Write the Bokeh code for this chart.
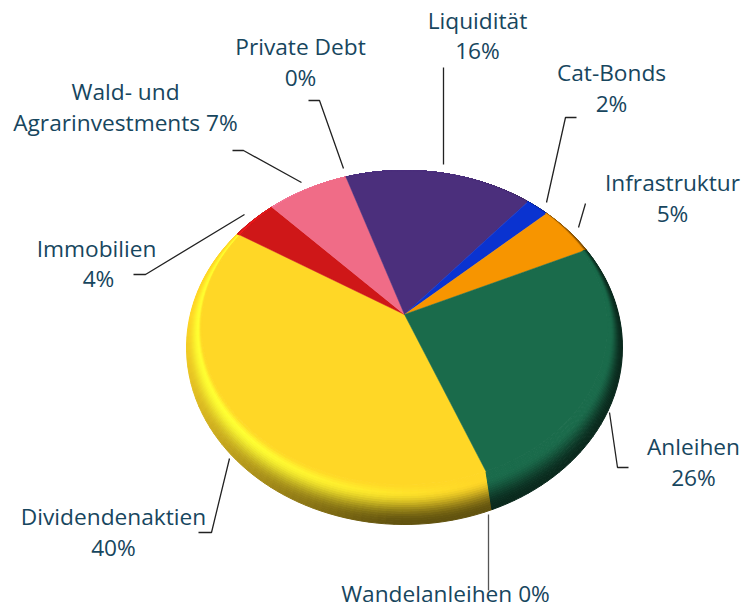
import math
import numpy as np
from bokeh.plotting import figure
from bokeh.models import Range1d
from bokeh.core.properties import value
from bokeh.embed import file_html
from bokeh.resources import INLINE

# ---- data (clockwise, starting at the yellow/green seam)
names = ["Dividendenaktien", "Immobilien", "Wald- und Agrarinvestments", "Private Debt",
         "Liquidität", "Cat-Bonds", "Infrastruktur", "Anleihen", "Wandelanleihen"]
shares = [40, 4, 7, 0, 16, 2, 5, 26, 0]
slice_colors = ["#FFD726", "#CF1718", "#F06C87", "#9A9A9A",
                "#4B2F7C", "#0A33D0", "#F79500", "#1A6B4B", "#8A8A8A"]

label_lines = ["Dividendenaktien", "40%", "Immobilien", "4%", "Wald- und", "Agrarinvestments 7%",
               "Private Debt", "0%", "Liquidität", "16%", "Cat-Bonds", "2%",
               "Infrastruktur", "5%", "Anleihen", "26%", "Wandelanleihen 0%"]
label_x = [113, 113, 96, 98, 125, 125, 300, 300, 477, 477, 611, 611, 672, 672, 693, 693, 445]
label_y = [516, 547, 248, 278, 91, 122, 46, 77, 20, 50, 72, 103, 182, 213, 446, 477, 593]

leader_xs = [[229, 211, 198], [133, 145, 244], [232, 243, 301], [308, 319, 343],
             [443, 443], [576, 565, 546], [585, 578], [609, 617, 628], [488, 488]]
leader_ys = [[458, 532, 532], [274, 274, 214], [150, 150, 182], [100, 100, 168],
             [67, 164], [117, 117, 202], [203, 227], [412, 467, 467], [514, 590]]
leader_colors = ["#222222"] * 8 + ["#555555"]

# ---- geometry of the tilted disc (screen pixels)
START_DEG = 158.5
APEX = (404.0, 314.0)
RAY_A, RAY_B = 205.0, 155.5
INNER = (404.0, 327.0, 203.0, 157.0)
OUTER = (404.0, 347.0, 218.0, 177.0)
LAYERS = 18


def ray_hit(theta, ell):
    dx, dy = RAY_A * math.sin(theta), -RAY_B * math.cos(theta)
    cx, cy, rx, ry = ell
    ox, oy = (APEX[0] - cx) / rx, (APEX[1] - cy) / ry
    ux, uy = dx / rx, dy / ry
    a = ux * ux + uy * uy
    b = 2 * (ox * ux + oy * uy)
    c = ox * ox + oy * oy - 1
    s = (-b + math.sqrt(b * b - 4 * a * c)) / (2 * a)
    return APEX[0] + s * dx, APEX[1] + s * dy


def ell_phi(pt, ell):
    cx, cy, rx, ry = ell
    return math.atan2((pt[0] - cx) / rx, (pt[1] - cy) / ry)


def ell_pt(phi, ell):
    cx, cy, rx, ry = ell
    return cx + rx * math.sin(phi), cy + ry * math.cos(phi)


def smooth(v):
    v = max(0.0, min(1.0, v))
    return v * v * (3 - 2 * v)


def hex_rgb(h):
    return np.array([int(h[i:i + 2], 16) for i in (1, 3, 5)], dtype=float)


def to_hex(c):
    c = np.clip(c, 0, 255).round().astype(int)
    return "#%02x%02x%02x" % tuple(c)


def bevel_color(base, phi, t):
    s, c = math.sin(phi), math.cos(phi)
    m = max(0.0, min(0.62, 0.36 + 0.34 * s + 0.28 * c))
    hl = max(0.0, min(1.0, 0.30 - 0.9 * s))
    dark = base * (1 - m)
    bright = np.clip(base * 1.2, 0, 255)
    bright[2] = min(255, base[2] * 1.3)
    mid = base + (bright - base) * hl
    if t < 0.82:
        f = smooth(t / 0.82) ** 1.3
        return dark + (mid - dark) * f
    return mid + (base - mid) * ((t - 0.82) / 0.18)


face_x, face_y, face_c = [], [], []
ring_x, ring_y, ring_c = [], [], []
cursor = START_DEG
for share, col in zip(shares, slice_colors):
    if share == 0:
        continue
    sweep = share * 3.6
    n = max(2, int(math.ceil(sweep / 2.0)))
    thetas = np.radians(np.linspace(cursor, cursor + sweep, n + 1))
    cursor += sweep
    inner = [ray_hit(t, INNER) for t in thetas]
    phis = np.unwrap([ell_phi(q, INNER) for q in inner])
    q_phis = np.unwrap([ell_phi(ray_hit(t, OUTER), OUTER) for t in thetas])
    q_phis += 2 * math.pi * round((phis[0] - q_phis[0]) / (2 * math.pi))
    out_phis = []
    for ph, qp in zip(phis, q_phis):
        w = smooth(math.cos(ph) / 0.5)
        out_phis.append(qp + (ph - qp) * w)
    outer = [ell_pt(o, OUTER) for o in out_phis]
    base = hex_rgb(col)
    for j in range(LAYERS):
        t0, t1 = j / LAYERS, (j + 1) / LAYERS
        for i in range(n):
            a0, b0 = np.array(outer[i]), np.array(inner[i])
            a1, b1 = np.array(outer[i + 1]), np.array(inner[i + 1])
            q = [a0 + (b0 - a0) * t0, a1 + (b1 - a1) * t0,
                 a1 + (b1 - a1) * t1, a0 + (b0 - a0) * t1]
            ring_x.append([v[0] for v in q])
            ring_y.append([v[1] for v in q])
            ring_c.append(to_hex(bevel_color(base, 0.5 * (phis[i] + phis[i + 1]), 0.5 * (t0 + t1))))
    face_x.append([APEX[0]] + [v[0] for v in inner])
    face_y.append([APEX[1]] + [v[1] for v in inner])
    face_c.append(col)

p = figure(width=748, height=608, output_backend="svg", toolbar_location=None,
           x_range=Range1d(0, 748), y_range=Range1d(608, 0), min_border=0)
p.axis.visible = False
p.grid.visible = False
p.outline_line_color = None
p.background_fill_color = "white"
p.border_fill_color = "white"

p.multi_line(leader_xs, leader_ys, line_color=leader_colors, line_width=1.3)
p.patches(ring_x, ring_y, fill_color=ring_c, line_color=ring_c, line_width=1.0)
p.patches(face_x, face_y, fill_color=face_c, line_color=face_c, line_width=0.5)
p.text(label_x, label_y, text=label_lines, text_align="center", text_baseline="alphabetic",
       text_font=value("Open Sans"), text_font_size="22.7px", text_color="#17465E")

open("out.html", "w").write(file_html(p, INLINE))
